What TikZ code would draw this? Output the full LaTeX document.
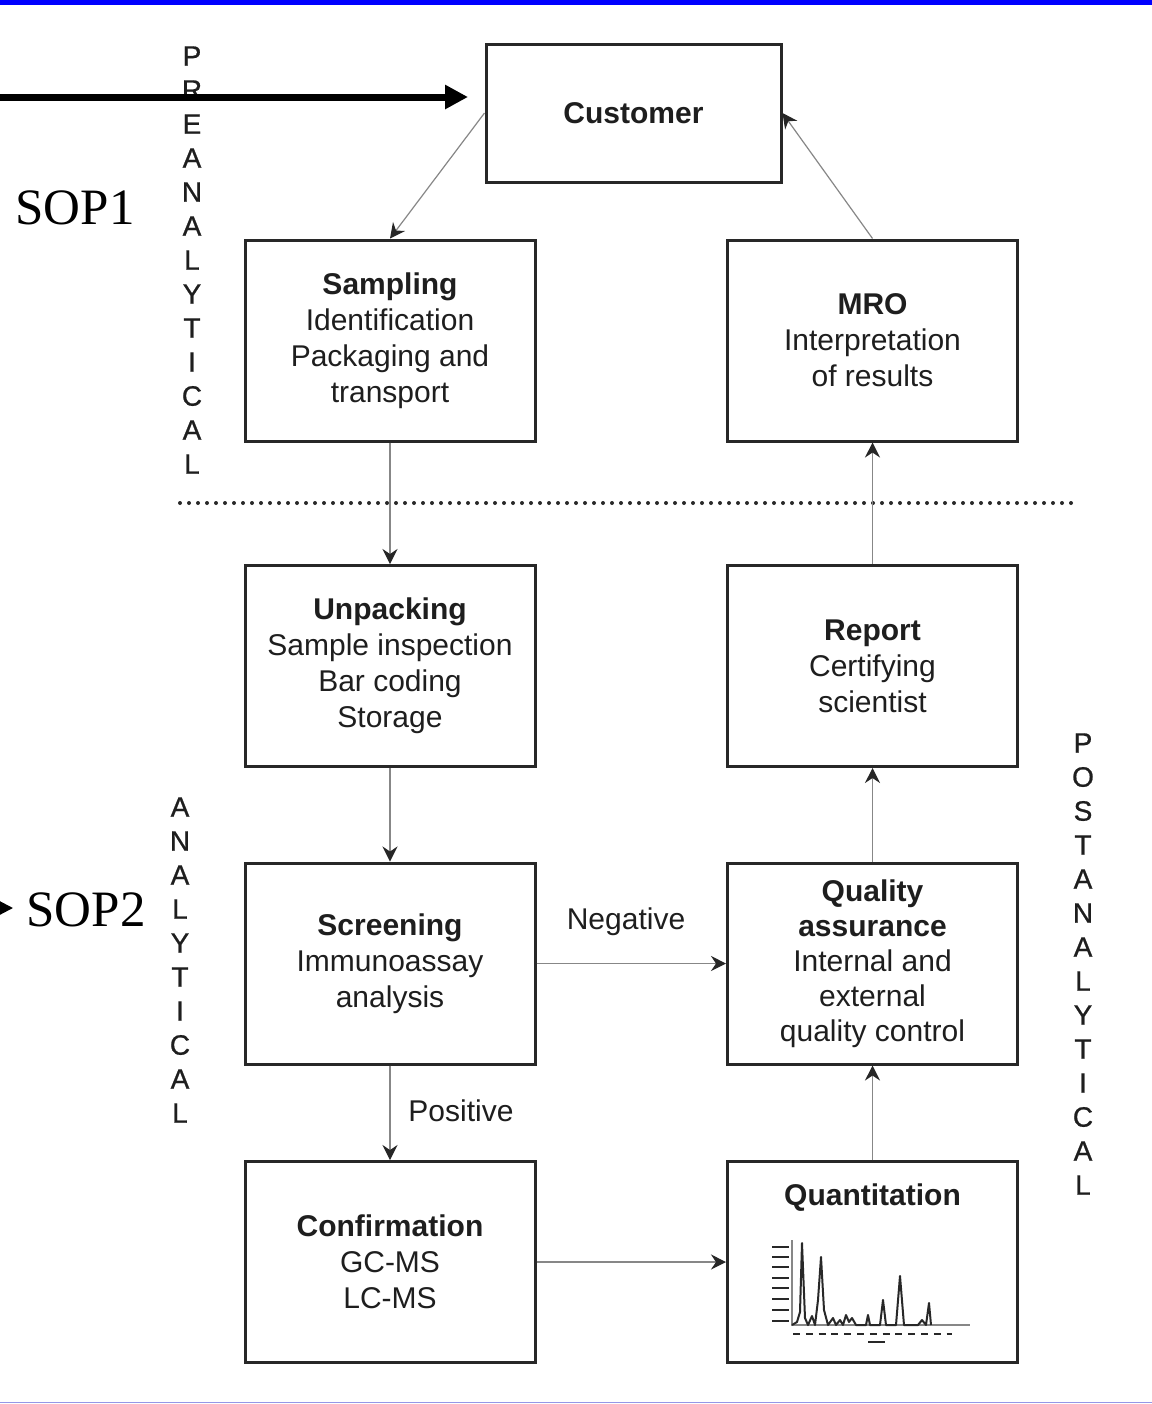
\documentclass[tikz,border=0pt]{standalone}
\usepackage{fontspec}
\setmainfont{Liberation Sans}
\newfontfamily\sopfont{Liberation Serif}
\newfontfamily\vfam[FakeBold=0.8]{Liberation Sans}
\usetikzlibrary{arrows.meta,calc}
\definecolor{txt}{RGB}{30,30,30}
\definecolor{boxc}{RGB}{40,40,40}
\definecolor{connc}{RGB}{135,135,135}
\definecolor{topblue}{RGB}{0,0,255}
\definecolor{lav}{RGB}{150,150,230}
\newcommand\bxfont{\fontsize{15}{18}\selectfont}
\newcommand\vfont{\vfam\fontsize{14}{17}\selectfont}
\begin{document}
\begin{tikzpicture}[x=0.5pt,y=-0.5pt,
  stagebox/.style={draw=boxc,line width=1.5pt,minimum width=145pt,minimum height=100.5pt,inner sep=0pt,align=center,font=\bxfont,text=txt},
  conn/.style={draw=connc,line width=0.6pt,-{Stealth[length=7.5pt,width=7.5pt,inset=2.5pt,color=black!85]}},
  lbl/.style={font=\bxfont,text=txt,inner sep=0pt},
  vlbl/.style={font=\vfont,text=txt,align=center,inner sep=0pt},
  sop/.style={font=\sopfont\fontsize{25.5}{30}\selectfont,text=black,inner sep=0pt}]
\useasboundingbox (0,0) rectangle (1152,1404);
\fill[white] (0,0) rectangle (1152,1404);
% frame bars
\fill[topblue] (0,0) rectangle (1152,5);
\draw[lav,line width=0.8pt] (0,1402.5) -- (1152,1402.5);

% boxes
\node[stagebox,minimum width=147.5pt,minimum height=69pt] (cust) at (633.5,113) {\textbf{Customer}};
\node[stagebox] (samp) at (390,340.5) {\textbf{Sampling}\\Identification\\Packaging and\\transport};
\node[stagebox] (mro) at (872.5,340.5) {\textbf{MRO}\\Interpretation\\of results};
\node[stagebox] (unp) at (390,666) {\textbf{Unpacking}\\Sample inspection\\Bar coding\\Storage};
\node[stagebox] (rep) at (872.5,666) {\textbf{Report}\\Certifying\\scientist};
\node[stagebox] (scr) at (390,963.5) {\textbf{Screening}\\Immunoassay\\analysis};
\node[stagebox,font=\fontsize{15}{17.5}\selectfont] (qa) at (872.5,963.5) {\textbf{Quality}\\\textbf{assurance}\\Internal and\\external\\quality control};
\node[stagebox] (conf) at (390,1262) {\textbf{Confirmation}\\GC-MS\\LC-MS};
\node[stagebox] (quant) at (872.5,1262) {};
\node[lbl] (quantt) at (872.5,1198) {\textbf{Quantitation}};

% chromatogram
\foreach \yy in {1247,1257,1267,1278,1288,1299,1310,1321}
  \draw[boxc,line width=1pt] (772,\yy) -- (789,\yy);
\draw[connc,line width=0.6pt] (792,1240) -- (792,1325) -- (970,1325);
\draw[boxc,line width=1pt,line join=round] (792,1325) -- (797,1322) -- (800,1312) -- (802,1243) -- (805,1318) -- (808,1325) -- (812,1316) -- (815,1325) -- (818,1300) -- (821,1257) -- (824,1310) -- (828,1325) -- (833,1318) -- (836,1325) -- (840,1320) -- (843,1325) -- (846,1315) -- (849,1322) -- (852,1318) -- (856,1325) -- (866,1325) -- (868,1315) -- (870,1325) -- (880,1325) -- (883,1300) -- (886,1325) -- (896,1325) -- (900,1276) -- (904,1325) -- (918,1325) -- (922,1320) -- (926,1325) -- (929,1303) -- (931,1325);
\draw[boxc,line width=1pt,dash pattern=on 3.5pt off 2.9pt] (793,1334) -- (952,1334);
\draw[boxc,line width=1pt] (868,1342) -- (885,1342);

% dotted separator
\draw[boxc,line width=2pt,line cap=round,dash pattern=on 0pt off 4.5pt] (180,503) -- (1072,503);

% connectors
\draw[conn] (cust.west) -- (samp.north);
\draw[conn] (mro.north) -- (cust.east);
\draw[conn] (samp.south) -- (unp.north);
\draw[conn] (unp.south) -- (scr.north);
\draw[conn] (scr.south) -- (conf.north);
\draw[conn] (scr.east) -- (qa.west);
\draw[conn] (conf.east) -- (quant.west);
\draw[conn] (quant.north) -- (qa.south);
\draw[conn] (qa.north) -- (rep.south);
\draw[conn] (rep.north) -- (mro.south);
\node[lbl] (neg) at (626,922) {Negative};
\node[lbl] (pos) at (461,1111) {Positive};

% phase labels
\node[vlbl] (pre) at (192,260) {P\\R\\E\\A\\N\\A\\L\\Y\\T\\I\\C\\A\\L};
\node[vlbl] (ana) at (180,960) {A\\N\\A\\L\\Y\\T\\I\\C\\A\\L};
\node[vlbl] (post) at (1083,964) {P\\O\\S\\T\\A\\N\\A\\L\\Y\\T\\I\\C\\A\\L};

% SOP labels and arrows
\node[sop] (sop1) at (75,208) {SOP1};
\node[sop] (sop2) at (86,910) {SOP2};
\coordinate (bigs) at (-20,97);
\coordinate (bige) at (468,97);
\draw[black,line width=3.5pt,-{Triangle[length=11.5pt,width=11.5pt]}] (bigs) -- (bige);
\coordinate (s2s) at (-40,908);
\coordinate (s2e) at (13,908);
\draw[black,line width=1pt,-{Triangle[length=6.5pt,width=6.5pt]}] (s2s) -- (s2e);
\end{tikzpicture}
\end{document}
